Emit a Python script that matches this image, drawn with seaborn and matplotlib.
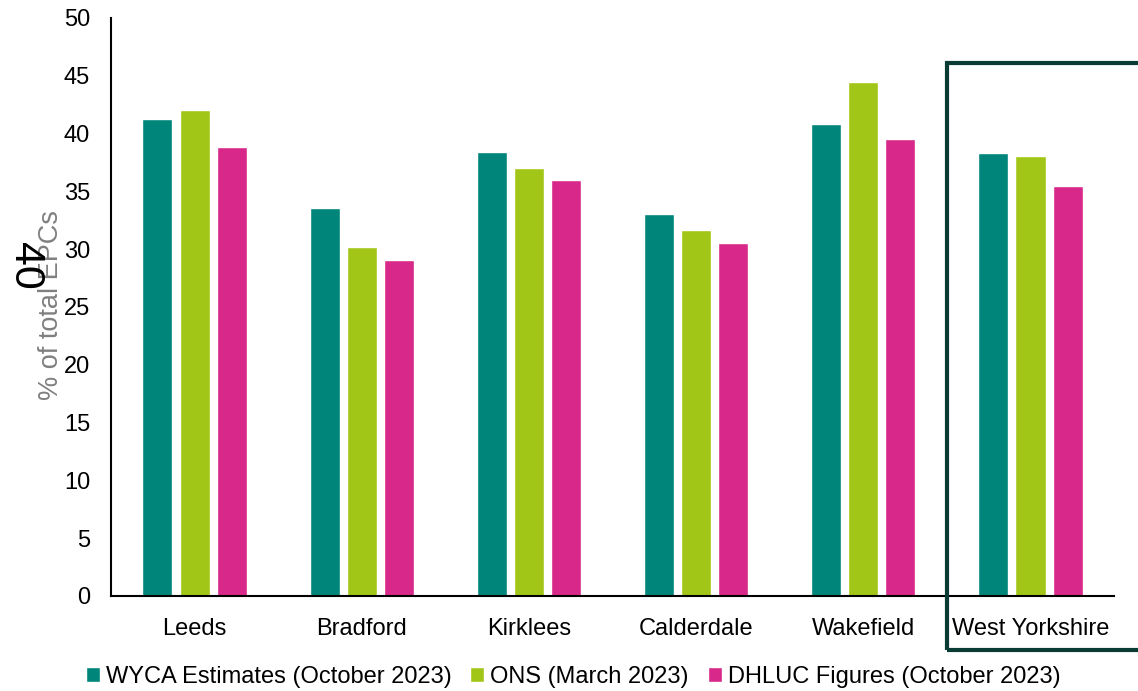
import seaborn as sns
import matplotlib.pyplot as plt
import matplotlib.transforms as mtransforms
from matplotlib.patches import Rectangle
import pandas as pd

# data
areas = ["Leeds", "Bradford", "Kirklees", "Calderdale", "Wakefield", "West Yorkshire"]
series = ["WYCA Estimates (October 2023)", "ONS (March 2023)", "DHLUC Figures (October 2023)"]
wyca = [41.3, 33.6, 38.4, 33.0, 40.8, 38.3]
ons = [42.0, 30.2, 37.0, 31.7, 44.5, 38.1]
dhluc = [38.8, 29.1, 36.0, 30.5, 39.5, 35.5]
colors = ["#00857B", "#A2C617", "#D8298A"]

rows = []
for name, vals in zip(series, [wyca, ons, dhluc]):
    for area, v in zip(areas, vals):
        rows.append({"Area": area, "Source": name, "Value": v})
df = pd.DataFrame(rows)

sns.set_theme(style="white")
plt.rcParams["font.family"] = ["Liberation Sans", "DejaVu Sans"]
plt.rcParams["text.color"] = "black"

fig = plt.figure(figsize=(11.38, 6.91), dpi=100)
ax = fig.add_axes([0.0975, 0.1375, 0.8815, 0.8365])

sns.barplot(data=df, x="Area", y="Value", hue="Source", palette=colors,
            width=0.665, gap=0.19, ax=ax, saturation=1, legend=True)

ax.set_ylim(0, 50)
ax.set_xlim(-0.5, 5.5)
ax.set_yticks(range(0, 51, 5))
ax.tick_params(axis="y", length=0, pad=15, labelsize=17, labelcolor="black")
ax.tick_params(axis="x", length=0, pad=16, labelsize=17, labelcolor="black")
ax.set_xlabel("")
ax.set_ylabel("")
for s in ["top", "right"]:
    ax.spines[s].set_visible(False)
for s in ["left", "bottom"]:
    ax.spines[s].set_color("black")
    ax.spines[s].set_linewidth(1.5)

# y axis label in grey, with the stray rotated "40" on top of it
fig.text(51 / 1138, 1 - 305 / 691, "% of total EPCs", rotation=90, color="#808080",
         fontsize=19.5, ha="center", va="center")
fig.text(25 / 1138, 1 - 266 / 691, "40", rotation=-90, color="black",
         fontsize=31, ha="center", va="center")

# box highlighting the West Yorkshire group
trans = mtransforms.blended_transform_factory(ax.transData, fig.transFigure)
box = Rectangle((4.5, 1 - 650 / 691), 1.2, (650 - 63) / 691, transform=trans,
                fill=False, edgecolor="#0B3B35", linewidth=3, clip_on=False)
fig.add_artist(box)

handles, labels = ax.get_legend_handles_labels()
ax.get_legend().remove()
fig.legend(handles, labels, loc="center", bbox_to_anchor=(573 / 1138, 1 - 677 / 691),
           ncol=3, frameon=False, fontsize=17, handlelength=0.6, handleheight=0.6,
           handletextpad=0.25, columnspacing=0.8, borderaxespad=0)

fig.savefig("out.png", dpi=100)
